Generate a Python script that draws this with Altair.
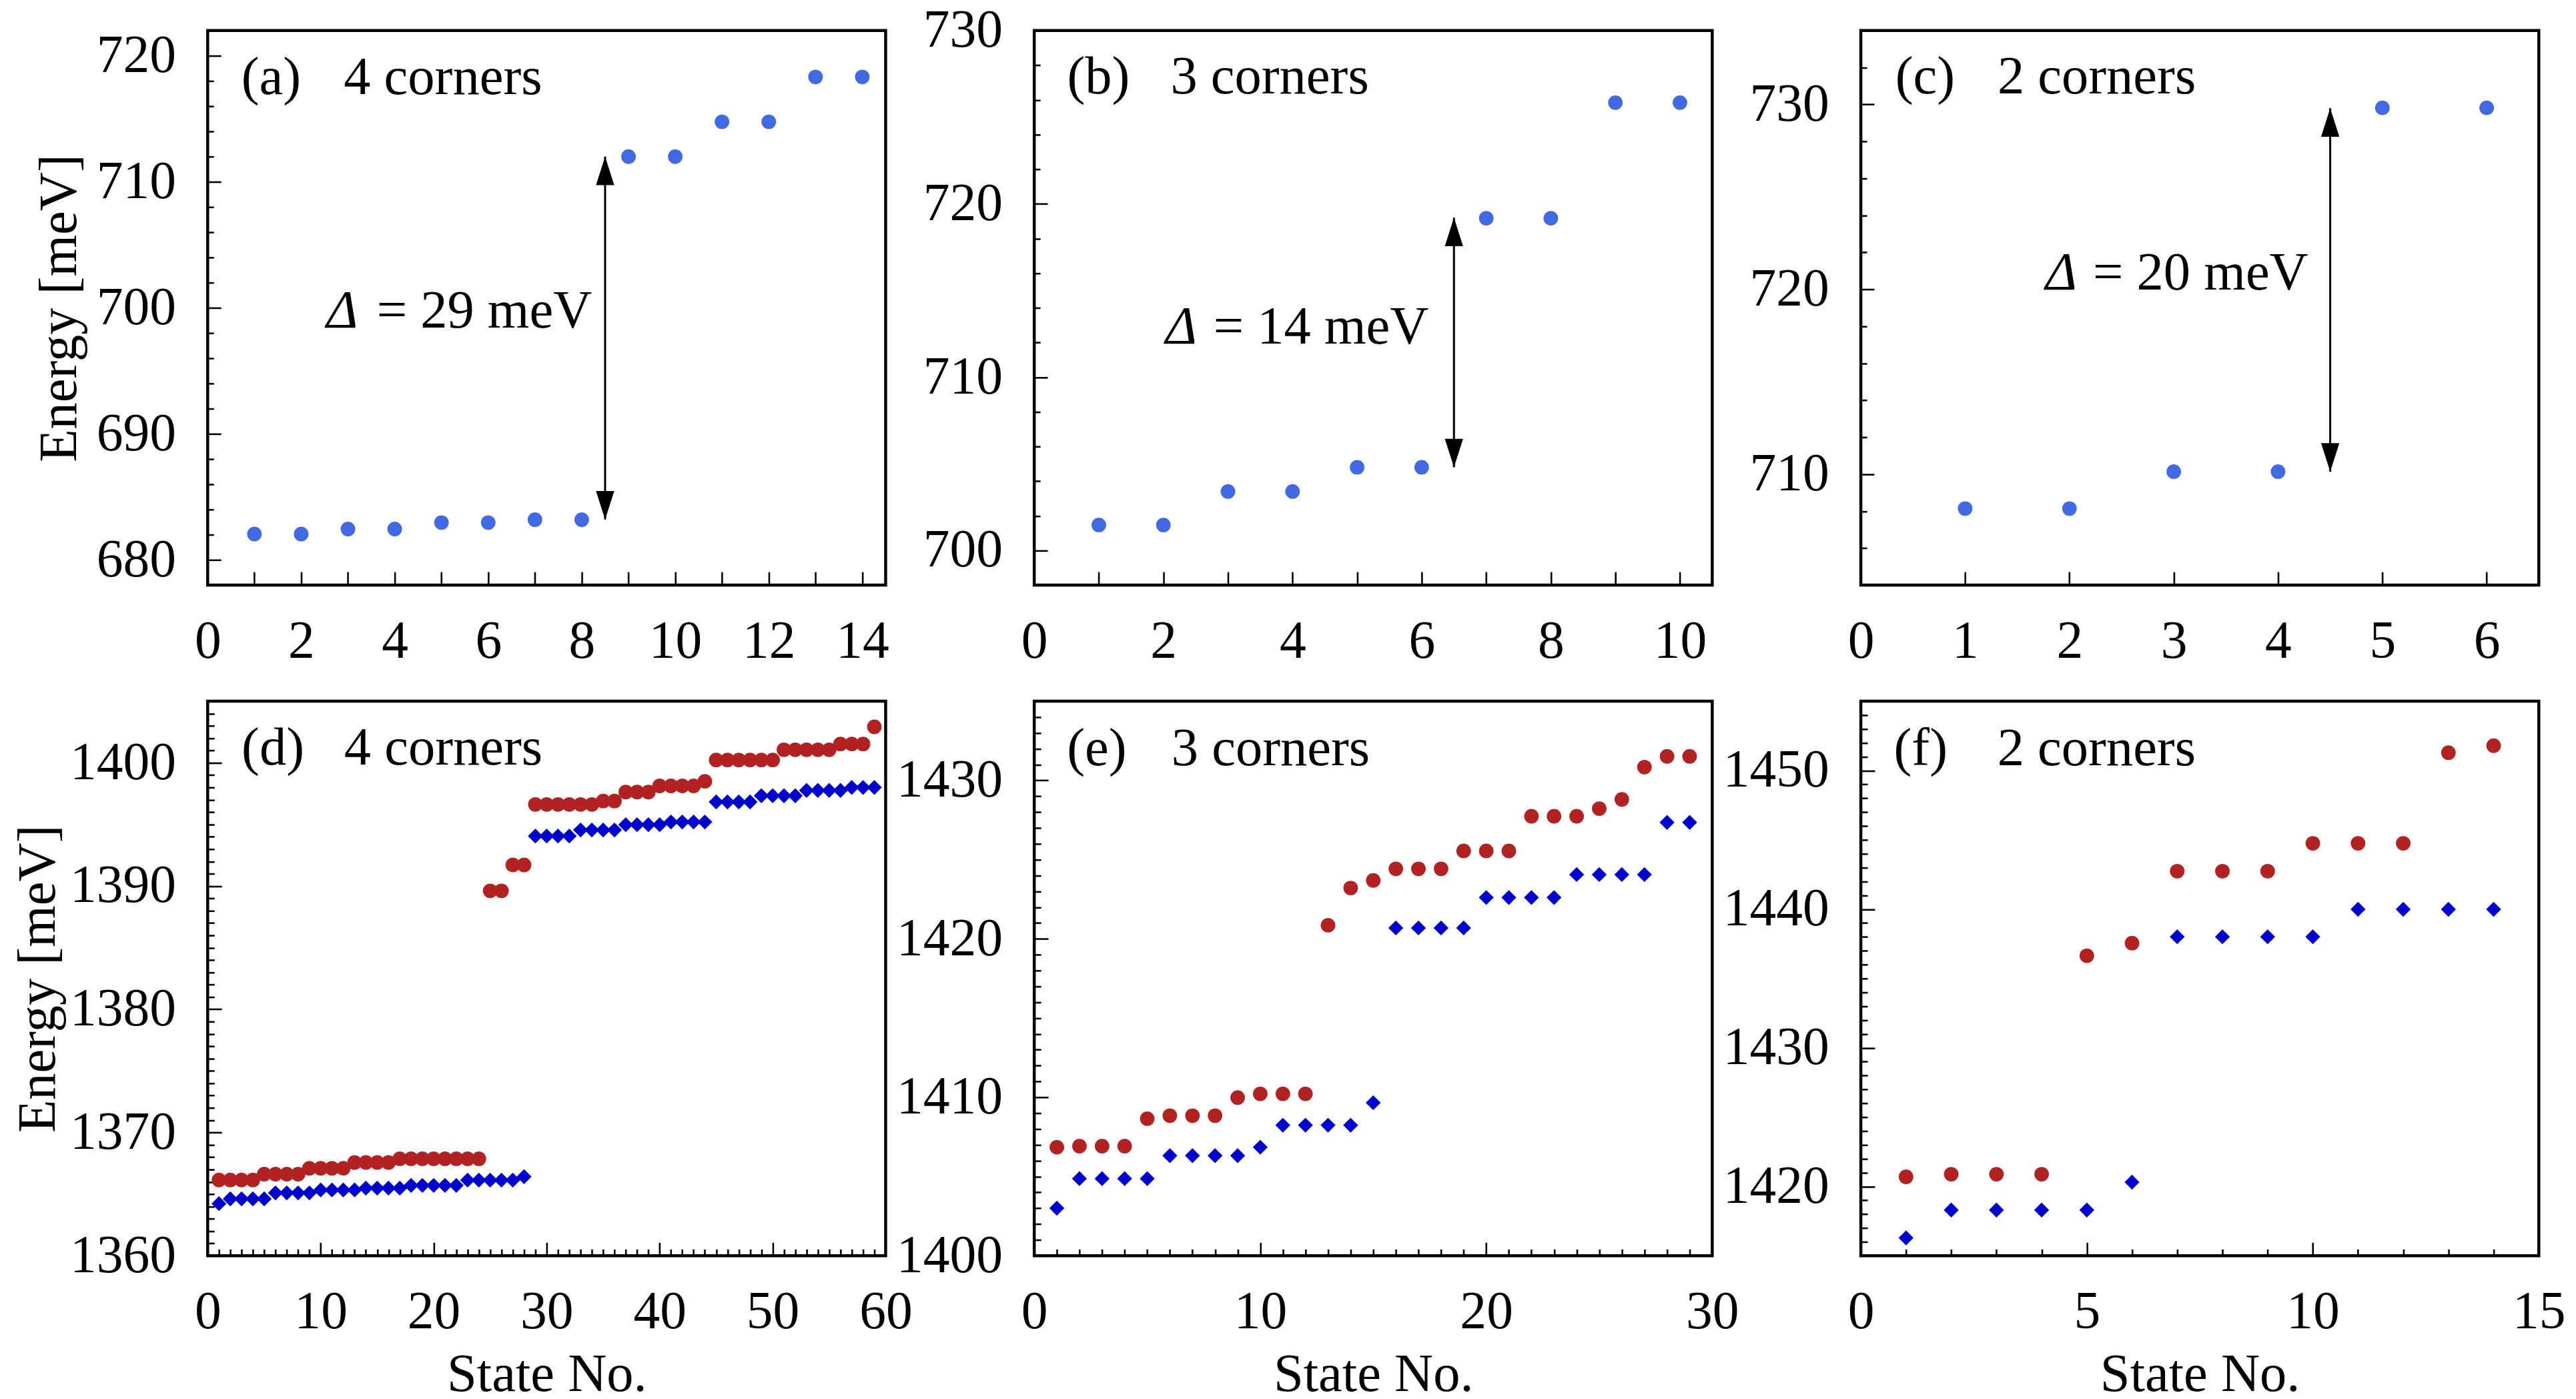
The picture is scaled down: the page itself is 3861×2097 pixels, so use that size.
import altair as alt
import pandas as pd

# ---------------- data ----------------
a_state = [1, 2, 3, 4, 5, 6, 7, 8, 9, 10, 11, 12, 13, 14]
a_energy = [682.05, 682.05, 682.45, 682.45, 682.96, 682.96, 683.19, 683.19,
            712.0, 712.0, 714.76, 714.76, 718.32, 718.32]

b_state = [1, 2, 3, 4, 5, 6, 7, 8, 9, 10]
b_energy = [701.47, 701.47, 703.4, 703.4, 704.8, 704.8, 719.17, 719.17, 725.84, 725.84]

c_state = [1, 2, 3, 4, 5, 6]
c_energy = [708.14, 708.14, 710.14, 710.14, 729.82, 729.82]

d_state = list(range(1, 60))
d_red = [1366.15, 1366.15, 1366.15, 1366.15,
         1366.62, 1366.62, 1366.62, 1366.62,
         1367.1, 1367.1, 1367.1, 1367.1,
         1367.57, 1367.57, 1367.57, 1367.57,
         1367.87, 1367.87, 1367.87, 1367.87, 1367.87, 1367.87, 1367.87, 1367.87,
         1389.61, 1389.61,
         1391.71, 1391.71,
         1396.62, 1396.62, 1396.62, 1396.62, 1396.62, 1396.62,
         1396.9, 1396.9,
         1397.63, 1397.63, 1397.63,
         1398.13, 1398.13, 1398.13, 1398.13,
         1398.5,
         1400.23, 1400.23, 1400.23, 1400.23, 1400.23, 1400.23,
         1401.06, 1401.06, 1401.06, 1401.06, 1401.06,
         1401.53, 1401.53, 1401.53,
         1402.92]
d_blue = [1364.23,
          1364.62, 1364.62, 1364.62, 1364.62,
          1365.1, 1365.1, 1365.1, 1365.1,
          1365.34, 1365.34, 1365.34, 1365.34,
          1365.49, 1365.49, 1365.49, 1365.49,
          1365.71, 1365.71, 1365.71, 1365.71, 1365.71,
          1366.14, 1366.14, 1366.14, 1366.14, 1366.14,
          1366.42,
          1394.06, 1394.06, 1394.06, 1394.06,
          1394.55, 1394.55, 1394.55, 1394.55,
          1394.98, 1394.98, 1394.98, 1394.98,
          1395.2, 1395.2, 1395.2, 1395.2,
          1396.83, 1396.83, 1396.83, 1396.83,
          1397.33, 1397.33, 1397.33, 1397.33,
          1397.76, 1397.76, 1397.76, 1397.76,
          1398.0, 1398.0, 1398.0]

e_state = list(range(1, 30))
e_red = [1406.85, 1406.92, 1406.92, 1406.92, 1408.65, 1408.84, 1408.84, 1408.84,
         1409.98, 1410.22, 1410.22, 1410.22, 1420.86, 1423.21, 1423.69,
         1424.42, 1424.42, 1424.42, 1425.55, 1425.55, 1425.55,
         1427.74, 1427.74, 1427.74, 1428.22, 1428.8, 1430.84, 1431.52, 1431.52]
e_blue = [1403.0, 1404.87, 1404.87, 1404.87, 1404.87,
          1406.32, 1406.32, 1406.32, 1406.32, 1406.85,
          1408.24, 1408.24, 1408.24, 1408.24, 1409.66,
          1420.69, 1420.69, 1420.69, 1420.69,
          1422.61, 1422.61, 1422.61, 1422.61,
          1424.06, 1424.06, 1424.06, 1424.06,
          1427.35, 1427.35]

f_state = list(range(1, 15))
f_red = [1420.69, 1420.88, 1420.88, 1420.88, 1436.64, 1437.55,
         1442.74, 1442.74, 1442.74, 1444.75, 1444.75, 1444.75, 1451.29, 1451.79]
f_blue = [1416.29, 1418.3, 1418.3, 1418.3, 1418.3, 1420.31,
          1438.01, 1438.01, 1438.01, 1438.01, 1439.99, 1439.99, 1439.99, 1439.99]

# gap arrows (x, lower end, upper end)
a_arrow = [8.5, 683.2, 712.0]
b_arrow = [6.5, 704.8, 719.2]
c_arrow = [4.5, 710.14, 729.8]

# ---------------- styling ----------------
FONT = "Liberation Serif"
FS_TICK = 80
FS_TEXT = 81
W, H = 1022, 836
ROYAL = "#4169E1"
RED = "#B22222"
BLUE = "#0000CD"
ARROW_UP = "M0,0 L0.32,1 L-0.32,1 Z"
ARROW_DOWN = "M0,0 L0.32,-1 L-0.32,-1 Z"


def lin(dom):
    return alt.Scale(domain=dom, nice=False, zero=False)


def label_axis(orient, values, title, pad):
    kw = dict(orient=orient, values=values, ticks=False, tickSize=0, domain=False,
              grid=False, labelFont=FONT, labelFontSize=FS_TICK, labelColor="black",
              labelPadding=pad, labelFlush=False, labelOverlap=False, format="d")
    if title:
        kw.update(title=title, titleFont=FONT, titleFontSize=FS_TEXT,
                  titleFontWeight="normal", titleColor="black",
                  titlePadding=14)
    else:
        kw["title"] = None
    return alt.Axis(**kw)


def tick_axis(orient, values, length):
    return alt.Axis(orient=orient, values=values, ticks=True, tickSize=length,
                    offset=-length, tickColor="black", tickWidth=2.6, labels=False,
                    domain=False, grid=False, title=None)


def text_layer(xs, ys, x, y, t, align="left", style="normal"):
    df = pd.DataFrame({"x": [x], "y": [y], "t": [t]})
    return alt.Chart(df).mark_text(font=FONT, fontSize=FS_TEXT, align=align,
                                   baseline="alphabetic", color="black",
                                   fontStyle=style).encode(
        x=alt.X("x:Q", scale=xs, axis=None),
        y=alt.Y("y:Q", scale=ys, axis=None),
        text="t:N")


def panel(series, xdom, ydom, xlab, ylab, xmaj, xmin, ymaj, ymin, lens,
          xtitle, ytitle, tag, tagx, name, namex, tagy, arrow=None, gap=None):
    xs, ys = lin(xdom), lin(ydom)
    xmajlen, xminlen, ymajlen, yminlen = lens
    layers = []
    for i, (xv, yv, shape, color, size) in enumerate(series):
        df = pd.DataFrame({"n": xv, "E": yv})
        xa = label_axis("bottom", xlab, xtitle, 46) if i == 0 else None
        ya = label_axis("left", ylab, ytitle, 48) if i == 0 else None
        layers.append(alt.Chart(df).mark_point(filled=True, shape=shape, size=size,
                                               color=color, opacity=1).encode(
            x=alt.X("n:Q", scale=xs, axis=xa), y=alt.Y("E:Q", scale=ys, axis=ya)))
    df0 = pd.DataFrame({"n": series[0][0], "E": series[0][1]})
    layers.append(alt.Chart(df0).mark_point(opacity=0).encode(
        x=alt.X("n:Q", scale=xs, axis=tick_axis("bottom", xmaj, xmajlen)),
        y=alt.Y("E:Q", scale=ys, axis=tick_axis("left", ymaj, ymajlen))))
    layers.append(alt.Chart(df0).mark_point(opacity=0).encode(
        x=alt.X("n:Q", scale=xs,
                axis=tick_axis("bottom", xmin, xminlen) if xmin else None),
        y=alt.Y("E:Q", scale=ys, axis=tick_axis("left", ymin, yminlen))))
    layers.append(text_layer(xs, ys, tagx, tagy, tag))
    layers.append(text_layer(xs, ys, namex, tagy, name))
    if arrow is not None:
        adf = pd.DataFrame({"x": [arrow[0]], "y1": [arrow[1]], "y2": [arrow[2]]})
        layers.append(alt.Chart(adf).mark_rule(color="black", strokeWidth=3).encode(
            x=alt.X("x:Q", scale=xs, axis=None),
            y=alt.Y("y1:Q", scale=ys, axis=None), y2="y2:Q"))
        layers.append(alt.Chart(adf).mark_point(shape=ARROW_UP, size=7400, filled=True,
                                                color="black", opacity=1).encode(
            x=alt.X("x:Q", scale=xs, axis=None), y=alt.Y("y2:Q", scale=ys, axis=None)))
        layers.append(alt.Chart(adf).mark_point(shape=ARROW_DOWN, size=7400, filled=True,
                                                color="black", opacity=1).encode(
            x=alt.X("x:Q", scale=xs, axis=None), y=alt.Y("y1:Q", scale=ys, axis=None)))
        gx0, gx1, gy, gtxt = gap
        layers.append(text_layer(xs, ys, gx0, gy, "Δ", "left", "italic"))
        layers.append(text_layer(xs, ys, gx1, gy, gtxt, "right"))
    return alt.layer(*layers).resolve_axis(x="independent", y="independent").properties(
        width=W, height=H)


def rng(a, b, s):
    out, v = [], a
    while v <= b + 1e-9:
        out.append(round(v, 6))
        v += s
    return out


top_lens = (20, 20, 20, 9)
bot_lens = (20, 10, 21, 10)

pa = panel([(a_state, a_energy, "circle", ROYAL, 484)], [0, 14.5], [678, 722],
           rng(0, 14, 2), rng(680, 720, 10), rng(1, 14, 1), [],
           rng(680, 720, 10), [v for v in rng(678, 722, 2) if v % 10], top_lens,
           None, "Energy [meV]", "(a)", 0.72, "4 corners", 2.91, 716.98,
           a_arrow, (2.54, 8.22, 698.45, "= 29 meV"))
pb = panel([(b_state, b_energy, "circle", ROYAL, 484)], [0, 10.5], [698, 730],
           rng(0, 10, 2), rng(700, 730, 10), rng(1, 10, 1), [],
           rng(700, 730, 10), [v for v in rng(698, 730, 2) if v % 10], top_lens,
           None, None, "(b)", 0.51, "3 corners", 2.11, 726.36,
           b_arrow, (2.03, 6.11, 711.93, "= 14 meV"))
pc = panel([(c_state, c_energy, "circle", ROYAL, 484)], [0, 6.5], [704, 734],
           rng(0, 6, 1), rng(710, 730, 10), rng(1, 6, 1), [],
           rng(710, 730, 10), [v for v in rng(704, 734, 2) if v % 10], top_lens,
           None, None, "(c)", 0.33, "2 corners", 1.31, 730.6,
           c_arrow, (1.77, 4.29, 720.0, "= 20 meV"))

pd_ = panel([(d_state, d_red, "circle", RED, 484), (d_state, d_blue, "diamond", BLUE, 506)],
            [0, 60], [1360, 1405],
            rng(0, 60, 10), rng(1360, 1400, 10), rng(10, 50, 10),
            [v for v in rng(1, 59, 1) if v % 10],
            rng(1360, 1400, 10), [v for v in rng(1361, 1404, 1) if v % 10], bot_lens,
            "State No.", "Energy [meV]", "(d)", 3.0, "4 corners", 12.08, 1399.84)
pe = panel([(e_state, e_red, "circle", RED, 484), (e_state, e_blue, "diamond", BLUE, 506)],
           [0, 30], [1400, 1435],
           rng(0, 30, 10), rng(1400, 1430, 10), rng(10, 20, 10),
           [v for v in rng(1, 29, 1) if v % 10],
           rng(1400, 1430, 10), [v for v in rng(1401, 1434, 1) if v % 10], bot_lens,
           "State No.", None, "(e)", 1.45, "3 corners", 6.07, 1430.98)
pf = panel([(f_state, f_red, "circle", RED, 484), (f_state, f_blue, "diamond", BLUE, 506)],
           [0, 15], [1415, 1455],
           rng(0, 15, 5), rng(1420, 1450, 10), rng(5, 10, 5),
           [v for v in rng(1, 14, 1) if v % 5],
           rng(1420, 1450, 10), [v for v in rng(1416, 1454, 1) if v % 10], bot_lens,
           "State No.", None, "(f)", 0.73, "2 corners", 3.02, 1450.4)

chart = alt.concat(pa, pb, pc, pd_, pe, pf, columns=3,
                   spacing={"row": 175, "column": 224}, bounds="flush").configure_view(
    stroke="black", strokeWidth=4.5).properties(
    padding={"left": 6, "top": -11, "right": 5, "bottom": 5}, background="white")

chart.save("out.html", embed_options={"renderer": "svg", "actions": False})
